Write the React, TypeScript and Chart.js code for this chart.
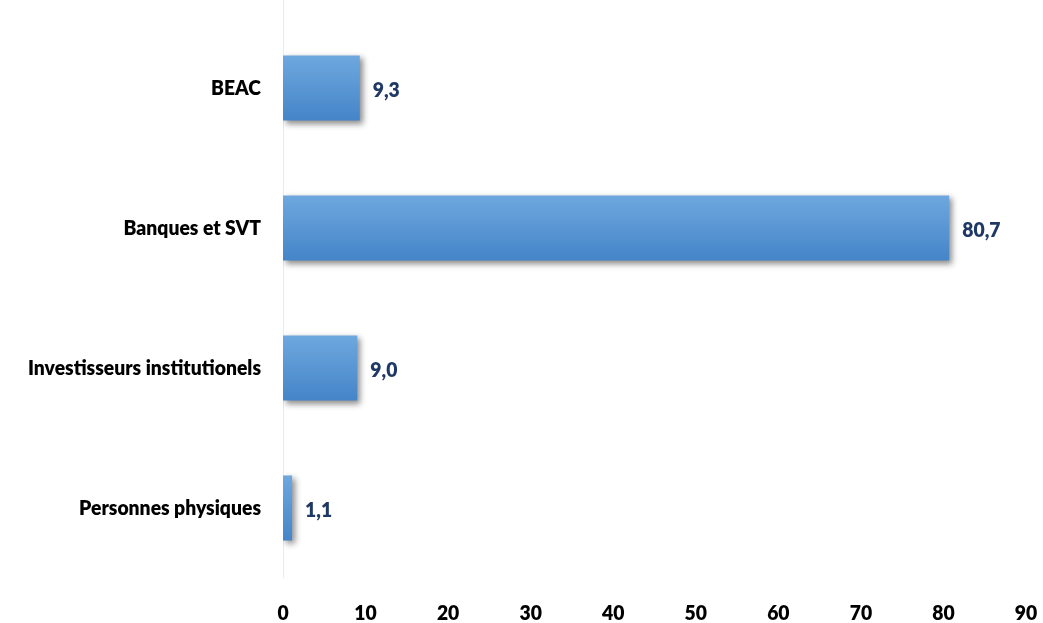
import React, { useEffect, useRef } from "react";
import { Chart, registerables } from "chart.js";

Chart.register(...registerables);

const categories = ["BEAC", "Banques et SVT", "Investisseurs institutionels", "Personnes physiques"];
const values = [9.3, 80.7, 9.0, 1.1];
const valueLabels = ["9,3", "80,7", "9,0", "1,1"];
const xTicks = [0, 10, 20, 30, 40, 50, 60, 70, 80, 90];

const FONT = "Lato, 'Open Sans', 'DejaVu Sans', sans-serif";
const SX = 0.92;

function drawText(ctx: any, text: string, x: number, y: number, align: string) {
  ctx.save();
  ctx.translate(x, y);
  ctx.scale(SX, 1);
  ctx.textAlign = align;
  ctx.textBaseline = "alphabetic";
  ctx.fillText(text, 0, 0);
  ctx.restore();
}

export default function App() {
  const ref = useRef<HTMLCanvasElement | null>(null);
  useEffect(() => {
    if (!ref.current) return;
    const plugin = {
      id: "customDraw",
      beforeDatasetsDraw(chart: any) {
        const ctx = chart.ctx;
        const a = chart.chartArea;
        ctx.save();
        ctx.strokeStyle = "#ebebeb";
        ctx.lineWidth = 1;
        ctx.beginPath();
        ctx.moveTo(Math.round(a.left) + 0.5, 0);
        ctx.lineTo(Math.round(a.left) + 0.5, a.bottom);
        ctx.stroke();
        ctx.restore();
        ctx.save();
        ctx.shadowColor = "rgba(0,0,0,0.45)";
        ctx.shadowBlur = 6;
        ctx.shadowOffsetX = 3;
        ctx.shadowOffsetY = 3;
      },
      afterDatasetsDraw(chart: any) {
        const ctx = chart.ctx;
        ctx.restore();
        const meta = chart.getDatasetMeta(0);
        const a = chart.chartArea;
        ctx.save();
        ctx.font = `800 21px ${FONT}`;
        ctx.fillStyle = "#1f3864";
        meta.data.forEach((el: any, i: number) => {
          drawText(ctx, valueLabels[i], el.x + 13, el.y + 8.5, "left");
        });
        ctx.fillStyle = "#000000";
        const ys = chart.scales.y;
        categories.forEach((c, i) => {
          drawText(ctx, c, a.left - 22, ys.getPixelForValue(i) + 7, "right");
        });
        const xs = chart.scales.x;
        xTicks.forEach((v) => {
          drawText(ctx, String(v), xs.getPixelForValue(v), 620, "center");
        });
        ctx.restore();
      },
    };
    const chart = new Chart(ref.current, {
      type: "bar",
      data: {
        labels: categories,
        datasets: [
          {
            data: values,
            backgroundColor: (c: any) => {
              const chartObj = c.chart;
              const ys = chartObj.scales && chartObj.scales.y;
              if (!ys || !chartObj.chartArea || c.dataIndex === undefined) return "#5b9bd5";
              const cy = ys.getPixelForValue(c.dataIndex);
              const g = chartObj.ctx.createLinearGradient(0, cy - 33, 0, cy + 33);
              g.addColorStop(0, "#6fa8df");
              g.addColorStop(1, "#4484c8");
              return g;
            },
            borderWidth: 0,
            categoryPercentage: 1,
            barPercentage: 0.465,
          },
        ],
      },
      options: {
        indexAxis: "y",
        responsive: false,
        animation: false,
        layout: { padding: { top: 18, right: 17, left: 0, bottom: 0 } },
        plugins: { legend: { display: false }, tooltip: { enabled: false } },
        scales: {
          x: {
            min: 0,
            max: 90,
            grid: { display: false, drawTicks: false },
            border: { display: false },
            ticks: { display: false },
            afterFit: (s: any) => {
              s.height = 45;
            },
          },
          y: {
            grid: { display: false, drawTicks: false },
            border: { display: false },
            ticks: { display: false },
            afterFit: (s: any) => {
              s.width = 283;
            },
          },
        },
      },
      plugins: [plugin],
    } as any);
    return () => chart.destroy();
  }, []);
  return (
    <div style={{ position: "fixed", left: 0, top: 0, width: 1043, height: 623, background: "#fff" }}>
      <canvas ref={ref} width={1043} height={623} />
    </div>
  );
}
